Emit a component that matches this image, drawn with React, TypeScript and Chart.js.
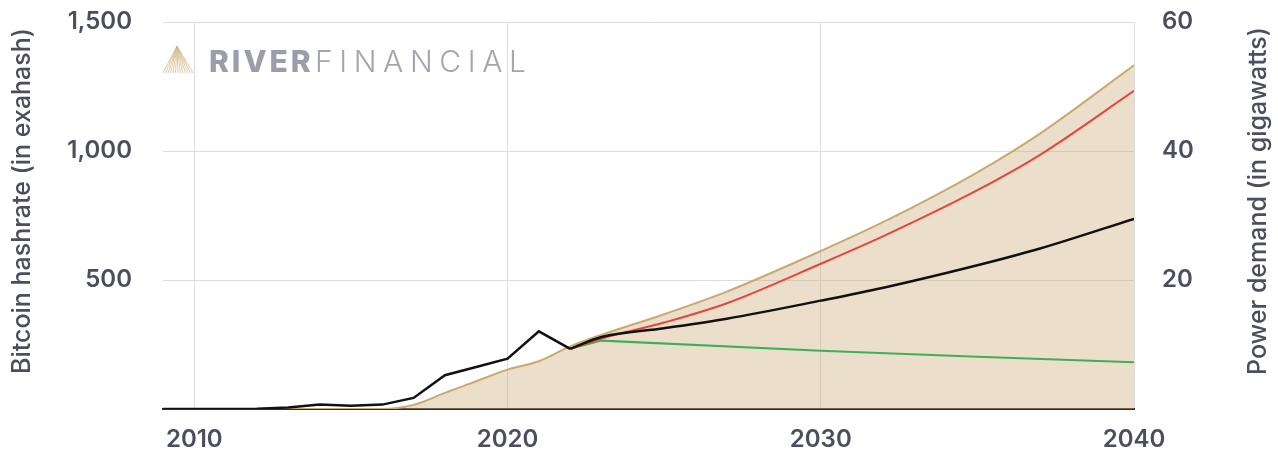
import React, { useEffect, useRef } from 'react';
import { Chart, registerables } from 'chart.js';

Chart.register(...registerables);

// ---- Data ----
const histYears = [2009, 2010, 2011, 2012, 2013, 2014, 2015, 2016, 2017, 2018, 2019, 2020, 2021, 2022];
const histHashrate = [0, 0, 0, 1, 6, 17, 13, 17, 43, 131, 163, 195, 301, 233];

const projYears = [2022, 2023, 2025, 2027, 2030, 2032, 2035, 2037, 2040];
const projBase = [233, 279, 313, 350, 420, 470, 557, 622, 737];
const projHigh = [233, 273, 335, 410, 563, 670, 848, 985, 1233];

const lowYears = [2022, 2023, 2030, 2035, 2040];
const projLow = [233, 265, 226, 203, 181];

const powerYears = [2009, 2010, 2011, 2012, 2013, 2014, 2015, 2016, 2017, 2018, 2019, 2020, 2021, 2022, 2023, 2025, 2027, 2030, 2032, 2035, 2037, 2040];
const powerGW = [0, 0, 0, 0, 0, 0, 0, 0, 0.64, 2.5, 4.3, 6.1, 7.4, 9.7, 11.5, 14.7, 18.2, 24.5, 29.0, 36.7, 42.7, 53.3];

const xTickValues = [2010, 2020, 2030, 2040];
const leftTitle = 'Bitcoin hashrate (in exahash)';
const rightTitle = 'Power demand (in gigawatts)';

const TEXT = '#4b4e5e';
const GRID = '#dddddd';

const pts = (xs: number[], ys: number[]) => xs.map((x, i) => ({ x, y: ys[i] }));

const decorPlugin = {
  id: 'decor',
  beforeDraw(chart: any) {
    const ctx = chart.ctx as CanvasRenderingContext2D;
    const area = chart.chartArea;
    ctx.save();
    // logo fan
    const ax = area.left + 14, ay = area.top + 24;
    ctx.strokeStyle = 'rgba(210,185,135,0.75)';
    ctx.lineWidth = 1;
    for (let i = 0; i <= 12; i++) {
      ctx.beginPath();
      ctx.moveTo(ax, ay);
      ctx.lineTo(area.left + i * 2.5, area.top + 51);
      ctx.stroke();
    }
    ctx.textBaseline = 'alphabetic';
    ctx.fillStyle = '#9c9daa';
    ctx.font = '800 30px Inter';
    (ctx as any).letterSpacing = '3px';
    ctx.fillText('RIVER', area.left + 46, area.top + 50);
    ctx.fillStyle = '#a4a5b1';
    ctx.font = '300 30px Inter';
    (ctx as any).letterSpacing = '6.6px';
    ctx.fillText('FINANCIAL', area.left + 152, area.top + 50);
    ctx.restore();
  },
  afterDraw(chart: any) {
    const ctx = chart.ctx as CanvasRenderingContext2D;
    const cy = 201;
    ctx.save();
    ctx.fillStyle = TEXT;
    ctx.font = '500 25px Inter';
    ctx.textAlign = 'center';
    ctx.textBaseline = 'middle';
    ctx.translate(22, cy);
    ctx.rotate(-Math.PI / 2);
    ctx.fillText(leftTitle, 0, 0);
    ctx.restore();
    ctx.save();
    ctx.fillStyle = TEXT;
    ctx.font = '500 25px Inter';
    ctx.textAlign = 'center';
    ctx.textBaseline = 'middle';
    ctx.translate(chart.width - 20, cy);
    ctx.rotate(-Math.PI / 2);
    ctx.fillText(rightTitle, 0, 0);
    ctx.restore();
  },
};

export default function App() {
  const ref = useRef<HTMLCanvasElement | null>(null);
  useEffect(() => {
    if (!ref.current) return;
    const tickFont = { family: 'Inter', size: 24, weight: 600 as any };
    const chart = new Chart(ref.current, {
      type: 'line',
      data: {
        datasets: [
          {
            label: 'Historical hashrate',
            data: pts(histYears, histHashrate),
            borderColor: '#111111',
            borderWidth: 2.5,
            pointRadius: 0,
            tension: 0,
            yAxisID: 'y',
            order: 1,
          },
          {
            label: 'Base case',
            data: pts(projYears, projBase),
            borderColor: '#111111',
            borderWidth: 2.5,
            pointRadius: 0,
            cubicInterpolationMode: 'monotone',
            yAxisID: 'y',
            order: 1,
          },
          {
            label: 'High case',
            data: pts(projYears, projHigh),
            borderColor: '#e5463a',
            borderWidth: 2,
            pointRadius: 0,
            cubicInterpolationMode: 'monotone',
            yAxisID: 'y',
            order: 2,
          },
          {
            label: 'Low case',
            data: pts(lowYears, projLow),
            borderColor: '#3daf57',
            borderWidth: 2,
            pointRadius: 0,
            tension: 0,
            yAxisID: 'y',
            order: 3,
          },
          {
            label: 'Power demand',
            data: pts(powerYears, powerGW),
            borderColor: '#c9a96e',
            backgroundColor: 'rgba(205,175,125,0.4)',
            borderWidth: 2,
            pointRadius: 0,
            fill: 'origin',
            cubicInterpolationMode: 'monotone',
            yAxisID: 'y2',
            order: 10,
          },
        ],
      },
      options: {
        animation: false,
        responsive: false,
        maintainAspectRatio: false,
        layout: { padding: { top: 22, left: 0, right: 0, bottom: 0 } },
        plugins: { legend: { display: false }, tooltip: { enabled: false } },
        scales: {
          x: {
            type: 'linear',
            min: 2009,
            max: 2040,
            afterBuildTicks: (s: any) => {
              s.ticks = xTickValues.map((v) => ({ value: v }));
            },
            afterFit: (s: any) => {
              s.height = 41;
            },
            grid: { color: GRID, lineWidth: 1, drawTicks: true, tickLength: 16, tickColor: 'rgba(0,0,0,0)' },
            border: { display: true, color: '#2f2f33', width: 2 },
            ticks: {
              padding: 0,
              color: TEXT,
              font: tickFont,
              maxRotation: 0,
              callback: (v: any) => String(v),
            },
          },
          y: {
            position: 'left',
            min: 0,
            max: 1500,
            afterFit: (s: any) => {
              s.width = 163;
            },
            grid: { color: GRID, lineWidth: 1, drawTicks: true, tickLength: 31, tickColor: 'rgba(0,0,0,0)' },
            border: { display: false },
            ticks: {
              stepSize: 500,
              padding: 0,
              color: TEXT,
              font: tickFont,
              callback: (v: any) => (v === 0 ? '' : Number(v).toLocaleString('en-US')),
            },
          },
          y2: {
            position: 'right',
            min: 0,
            max: 60,
            afterFit: (s: any) => {
              s.width = 144;
            },
            grid: { display: false, drawTicks: true, tickLength: 28 },
            border: { display: false },
            ticks: {
              stepSize: 20,
              padding: 0,
              color: TEXT,
              font: tickFont,
              callback: (v: any) => (v === 0 ? '' : String(v)),
            },
          },
        },
      },
      plugins: [decorPlugin],
    });
    return () => chart.destroy();
  }, []);

  return (
    <div style={{ position: 'fixed', left: 0, top: 0, width: 1278, height: 450, background: '#ffffff' }}>
      <canvas ref={ref} width={1278} height={450} style={{ width: 1278, height: 450, display: 'block' }} />
    </div>
  );
}
